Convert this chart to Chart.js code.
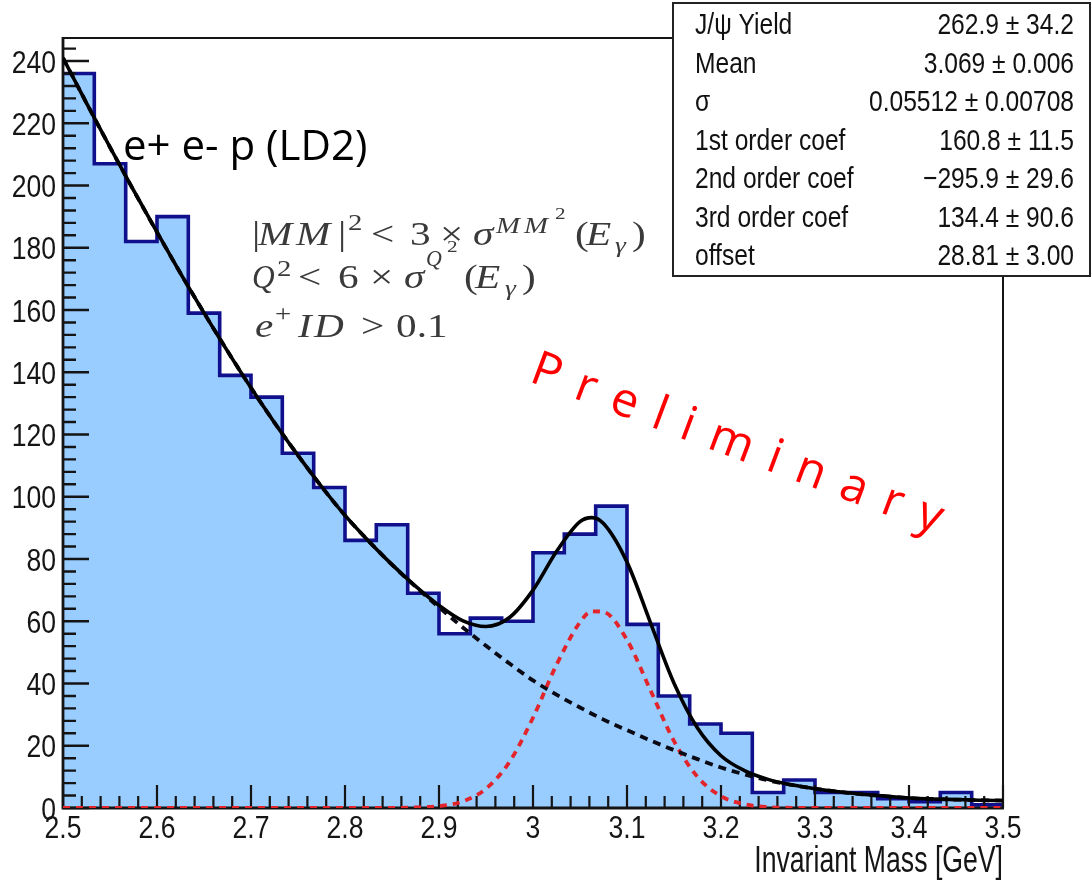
<!DOCTYPE html>
<html>
<head>
<meta charset="utf-8">
<script src="https://cdn.jsdelivr.net/npm/chart.js@4.4.1/dist/chart.umd.min.js"></script>
<style>
  html, body { margin: 0; padding: 0; background: #ffffff; }
  #wrap { position: relative; width: 1092px; height: 881px; }
</style>
</head>
<body>
<div id="wrap"><canvas id="c"></canvas></div>
<script>
// ---------------- data ----------------
const binEdges = [2.5, 2.5333, 2.5667, 2.6, 2.6333, 2.6667, 2.7, 2.7333, 2.7667, 2.8,
                  2.8333, 2.8667, 2.9, 2.9333, 2.9667, 3.0, 3.0333, 3.0667, 3.1, 3.1333,
                  3.1667, 3.2, 3.2333, 3.2667, 3.3, 3.3333, 3.3667, 3.4, 3.4333, 3.4667, 3.5];
const binCounts = [236, 207, 182, 190, 159, 139, 132, 114, 103, 86,
                   91, 69, 56, 61, 60, 82, 88, 97, 59, 36,
                   27, 24, 5, 9, 5, 5, 3, 2, 5, 1];

const fitX = [2.5, 2.525, 2.55, 2.575, 2.6, 2.625, 2.65, 2.675, 2.7, 2.725,
              2.75, 2.775, 2.8, 2.825, 2.85, 2.875, 2.9, 2.925, 2.95, 2.975,
              3.0, 3.025, 3.05, 3.0625, 3.075, 3.1, 3.125, 3.15, 3.175, 3.2,
              3.225, 3.25, 3.275, 3.3, 3.325, 3.35, 3.375, 3.4, 3.425, 3.45,
              3.475, 3.5];
const fitTotal = [241, 226.5, 212.3, 198.5, 185, 171.8, 159.1, 146.8, 135, 123.8,
                  113.3, 103.3, 94, 85.8, 78.2, 71.3, 65.1, 60.2, 58.3, 61.2,
                  70, 82.4, 92, 93.3, 91.4, 79, 59.5, 40.1, 25.7, 16.8,
                  12, 9.2, 7.45, 6.2, 5.2, 4.4, 3.8, 3.2, 2.9, 2.7,
                  2.5, 2.4];
const fitBackground = [241, 226.5, 212.3, 198.5, 185, 171.8, 159.1, 146.8, 135, 123.8,
                       113.3, 103.3, 94, 85.8, 78.2, 71.1, 64.5, 58.1, 52.1, 46.4,
                       41, 36.4, 32.3, 30.3, 28.4, 25, 21.7, 18.6, 15.7, 13,
                       10.8, 8.9, 7.4, 6.2, 5.2, 4.4, 3.8, 3.2, 2.9, 2.7,
                       2.5, 2.4];
const fitSignal = [0, 0, 0, 0, 0, 0, 0, 0, 0, 0,
                   0, 0, 0, 0, 0, 0.2, 0.6, 2.1, 6.2, 14.8,
                   29, 46, 59.7, 63.2, 63, 54, 37.8, 21.5, 10, 3.8,
                   1.2, 0.3, 0.05, 0, 0, 0, 0, 0, 0, 0,
                   0, 0];

const xTickValues = [2.5, 2.6, 2.7, 2.8, 2.9, 3.0, 3.1, 3.2, 3.3, 3.4, 3.5];
const xTickLabels = ['2.5', '2.6', '2.7', '2.8', '2.9', '3', '3.1', '3.2', '3.3', '3.4', '3.5'];
const yTickValues = [0, 20, 40, 60, 80, 100, 120, 140, 160, 180, 200, 220, 240];
const yTickLabels = ['0', '20', '40', '60', '80', '100', '120', '140', '160', '180', '200', '220', '240'];

const statNames  = ['J/\u03C8 Yield', 'Mean', '\u03C3', '1st order coef', '2nd order coef', '3rd order coef', 'offset'];
const statValues = ['262.9 \u00B1 34.2', '3.069 \u00B1 0.006', '0.05512 \u00B1 0.00708', '160.8 \u00B1 11.5',
                    '\u2212295.9 \u00B1 29.6', '134.4 \u00B1 90.6', '28.81 \u00B1 3.00'];

const xTitle = 'Invariant Mass [GeV]';
const sampleLabel = 'e+ e- p (LD2)';
const watermark = 'Preliminary';

// ---------------- styling ----------------
const SANS = "'Liberation Sans', Arial, sans-serif";
const SERIF = "'Liberation Serif', 'DejaVu Serif', serif";
const HIST_INDEX = 3;

const histPoints = binCounts.map((v, i) => ({x: binEdges[i], y: v}));
histPoints.push({x: binEdges[binEdges.length - 1], y: binCounts[binCounts.length - 1]});
const toPts = arr => arr.map((v, i) => ({x: fitX[i], y: v}));

// text drawn with a horizontal squeeze/stretch factor
function sText(ctx, txt, x, y, sx, align) {
  ctx.save();
  ctx.translate(x, y);
  ctx.scale(sx, 1);
  ctx.textAlign = align || 'left';
  ctx.fillText(txt, 0, 0);
  ctx.restore();
}

function richLine(ctx, baseY, segs) {
  for (const s of segs) {
    const size = s.s || 33;
    ctx.font = (s.it ? 'italic ' : '') + size + 'px ' + SERIF;
    sText(ctx, s.t, s.x, s.y !== undefined ? s.y : baseY, s.sx || 1.25, 'left');
  }
}

function drawFrameAndTicks(chart) {
  const {ctx, chartArea: a, scales: {x, y}} = chart;
  ctx.save();
  ctx.strokeStyle = '#141414';
  ctx.lineCap = 'butt';
  ctx.setLineDash([]);
  ctx.lineWidth = 2;
  ctx.beginPath();
  ctx.moveTo(a.left, a.top); ctx.lineTo(a.right, a.top); ctx.lineTo(a.right, a.bottom);
  ctx.stroke();
  ctx.lineWidth = 2.8;
  ctx.beginPath();
  ctx.moveTo(a.left, a.top - 1); ctx.lineTo(a.left, a.bottom); ctx.lineTo(a.right + 1, a.bottom);
  ctx.stroke();
  // y ticks (inside)
  ctx.lineWidth = 2.4;
  const yStep = yTickValues[1] - yTickValues[0];
  ctx.beginPath();
  for (const v of yTickValues) {
    const p = y.getPixelForValue(v);
    ctx.moveTo(a.left, p); ctx.lineTo(a.left + 26, p);
    for (let k = 1; k < 5; k++) {
      const mv = v + k * yStep / 5;
      if (mv > y.max) break;
      const mp = y.getPixelForValue(mv);
      ctx.moveTo(a.left, mp); ctx.lineTo(a.left + 13, mp);
    }
  }
  ctx.stroke();
  // x ticks (inside)
  ctx.lineWidth = 2.2;
  const xStep = xTickValues[1] - xTickValues[0];
  ctx.beginPath();
  for (const v of xTickValues) {
    const p = x.getPixelForValue(v);
    ctx.moveTo(p, a.bottom); ctx.lineTo(p, a.bottom - 23);
    for (let k = 1; k < 5; k++) {
      const mv = v + k * xStep / 5;
      if (mv > x.max + 1e-9) break;
      const mp = x.getPixelForValue(mv);
      ctx.moveTo(mp, a.bottom); ctx.lineTo(mp, a.bottom - 12);
    }
  }
  ctx.stroke();
  ctx.restore();
}

const decor = {
  id: 'decor',
  afterDatasetDraw(chart, args) {
    if (args.index === HIST_INDEX) drawFrameAndTicks(chart);
  },
  afterDraw(chart) {
    const {ctx, chartArea: a, scales: {x, y}} = chart;
    ctx.save();
    ctx.fillStyle = '#151515';
    ctx.textBaseline = 'alphabetic';
    // tick labels
    ctx.font = '32px ' + SANS;
    xTickValues.forEach((v, i) => sText(ctx, xTickLabels[i], x.getPixelForValue(v), 838, 0.83, 'center'));
    yTickValues.forEach((v, i) => sText(ctx, yTickLabels[i], a.left - 7, y.getPixelForValue(v) + 11.5, 0.83, 'right'));
    // axis title
    ctx.font = '36px ' + SANS;
    sText(ctx, xTitle, a.right, 872, 0.74, 'right');

    // stats box
    const bx = 673, by = 3, bw = 417, bh = 273;
    ctx.fillStyle = '#ffffff';
    ctx.fillRect(bx, by, bw, bh);
    ctx.strokeStyle = '#222';
    ctx.lineWidth = 2;
    ctx.strokeRect(bx, by, bw, bh);
    ctx.fillStyle = '#111';
    ctx.font = '30px ' + SANS;
    for (let i = 0; i < statNames.length; i++) {
      const ry = 34 + i * 38.5;
      sText(ctx, statNames[i], 695, ry, 0.82, 'left');
      sText(ctx, statValues[i], 1074, ry, 0.82, 'right');
    }
    // sample label
    ctx.fillStyle = '#000';
    ctx.font = '42px "Open Sans", sans-serif';
    ctx.textAlign = 'left';
    ctx.fillText(sampleLabel, 123, 160);
    // selection cuts (math)
    ctx.fillStyle = '#3a3a3a';
    richLine(ctx, 245, [
      {t: '|', x: 252}, {t: 'M', x: 258, it: 1}, {t: 'M', x: 296, it: 1}, {t: '|', x: 338},
      {t: '2', x: 348, s: 23, y: 230},
      {t: '<', x: 371}, {t: '3', x: 410}, {t: '\u00D7', x: 440},
      {t: '\u03C3', x: 473, it: 1},
      {t: 'M', x: 496, it: 1, s: 23, y: 233}, {t: 'M', x: 524, it: 1, s: 23, y: 233},
      {t: '2', x: 555, s: 17, y: 219},
      {t: '(', x: 575}, {t: 'E', x: 586, it: 1}, {t: '\u03B3', x: 615, it: 1, s: 22, y: 252}, {t: ')', x: 632}
    ]);
    richLine(ctx, 288, [
      {t: 'Q', x: 252, it: 1, sx: 0.95}, {t: '2', x: 277, s: 23, y: 276},
      {t: '<', x: 298}, {t: '6', x: 338}, {t: '\u00D7', x: 370},
      {t: '\u03C3', x: 404, it: 1},
      {t: 'Q', x: 426, it: 1, s: 23, y: 266, sx: 0.95}, {t: '2', x: 447, s: 17, y: 252},
      {t: '(', x: 464}, {t: 'E', x: 475, it: 1}, {t: '\u03B3', x: 505, it: 1, s: 22, y: 295}, {t: ')', x: 522}
    ]);
    richLine(ctx, 337, [
      {t: 'e', x: 255, it: 1}, {t: '+', x: 275, s: 23, y: 321},
      {t: 'I', x: 298, it: 1}, {t: 'D', x: 314, it: 1},
      {t: '>', x: 361}, {t: '0.1', x: 396}
    ]);
    // watermark
    ctx.save();
    ctx.translate(528, 381);
    ctx.rotate(20.5 * Math.PI / 180);
    ctx.fillStyle = '#ff0000';
    ctx.font = '48px "Open Sans", sans-serif';
    ctx.textAlign = 'left';
    let cx = 0;
    for (const ch of watermark) {
      ctx.fillText(ch, cx, 0);
      cx += ctx.measureText(ch).width + 18;
    }
    ctx.restore();
    ctx.restore();
  }
};

new Chart(document.getElementById('c'), {
  type: 'line',
  data: {
    datasets: [
      {label: 'total', data: toPts(fitTotal), borderColor: '#000000', borderWidth: 3.6,
       pointRadius: 0, fill: false, cubicInterpolationMode: 'monotone'},
      {label: 'background', data: toPts(fitBackground), borderColor: '#0a0a14', borderWidth: 3.8,
       borderDash: [8, 6], pointRadius: 0, fill: false, cubicInterpolationMode: 'monotone'},
      {label: 'signal', data: toPts(fitSignal), borderColor: '#e3242b', borderWidth: 3.8,
       borderDash: [7, 6], pointRadius: 0, fill: false, cubicInterpolationMode: 'monotone'},
      {label: 'data', data: histPoints, stepped: true, borderColor: '#10108c', borderWidth: 3.6,
       backgroundColor: '#99ccff', fill: 'origin', pointRadius: 0, borderJoinStyle: 'miter'}
    ]
  },
  options: {
    responsive: true,
    maintainAspectRatio: false,
    animation: false,
    events: [],
    layout: {padding: {left: 0, top: 38, right: 89, bottom: 0}},
    plugins: {legend: {display: false}, tooltip: {enabled: false}, title: {display: false}},
    scales: {
      x: {
        type: 'linear', min: 2.5, max: 3.5,
        afterBuildTicks: s => { s.ticks = xTickValues.map(v => ({value: v})); },
        afterFit: s => { s.height = 73; },
        grid: {display: false},
        border: {display: false},
        ticks: {display: false}
      },
      y: {
        type: 'linear', min: 0, max: 247.4,
        afterBuildTicks: s => { s.ticks = yTickValues.map(v => ({value: v})); },
        afterFit: s => { s.width = 63; },
        grid: {display: false},
        border: {display: false},
        ticks: {display: false}
      }
    }
  },
  plugins: [decor]
});
</script>
</body>
</html>
